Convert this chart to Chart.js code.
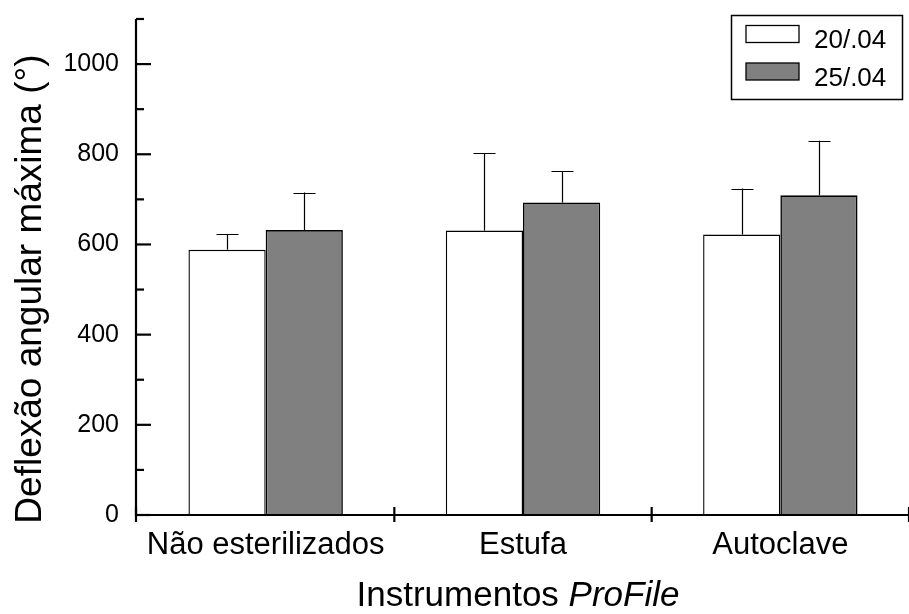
<!DOCTYPE html>
<html>
<head>
<meta charset="utf-8">
<script src="https://cdn.jsdelivr.net/npm/chart.js@4/dist/chart.umd.min.js"></script>
<style>
  html, body { margin: 0; padding: 0; background: #ffffff; }
  #wrap { width: 909px; height: 614px; }
</style>
</head>
<body>
<div id="wrap"><canvas id="chart" width="909" height="614"></canvas></div>
<script>
// Instrument groups on the x axis
const categories = ['Não esterilizados', 'Estufa', 'Autoclave'];

// Series 20/.04: mean maximum angular deflection and its standard deviation
const label2004 = '20/.04';
const mean2004 = [588, 631, 622];
const sd2004 = [35, 171, 102];

// Series 25/.04
const label2504 = '25/.04';
const mean2504 = [632, 693, 709];
const sd2504 = [83, 70, 121];

// Y axis
const yMin = 0;
const yMax = 1100;
const yMajorStep = 200;
const yMinorStep = 100;

const yTitle = 'Deflexão angular máxima (°)';
const xTitleMain = 'Instrumentos ';
const xTitleItalic = 'ProFile';

const FONT = '"Liberation Sans", Arial, Helvetica, sans-serif';

// Error bars (mean + SD, upward only)
const errorBars = {
  id: 'errorBars',
  afterDatasetsDraw(chart) {
    const ctx = chart.ctx;
    const y = chart.scales.y;
    ctx.save();
    ctx.strokeStyle = '#000';
    ctx.lineWidth = 1.2;
    chart.data.datasets.forEach((ds, di) => {
      const meta = chart.getDatasetMeta(di);
      meta.data.forEach((bar, i) => {
        const top = y.getPixelForValue(ds.data[i]);
        const end = y.getPixelForValue(ds.data[i] + ds.errors[i]);
        const x = Math.round(bar.x) + 0.5;
        ctx.beginPath();
        ctx.moveTo(x, top);
        ctx.lineTo(x, end);
        ctx.moveTo(x - 11, Math.round(end) + 0.5);
        ctx.lineTo(x + 11, Math.round(end) + 0.5);
        ctx.stroke();
      });
    });
    ctx.restore();
  }
};

// Axis lines, tick marks, titles and the boxed legend
const frame = {
  id: 'frame',
  afterDraw(chart) {
    const ctx = chart.ctx;
    const area = chart.chartArea;
    const x = chart.scales.x;
    const y = chart.scales.y;
    const axisX = area.left - 1;
    const base = y.getPixelForValue(0);
    ctx.save();
    ctx.strokeStyle = '#000';
    ctx.fillStyle = '#000';

    // axis lines
    ctx.lineWidth = 2.2;
    ctx.beginPath();
    ctx.moveTo(axisX, y.getPixelForValue(yMax));
    ctx.lineTo(axisX, base + 1);
    ctx.moveTo(axisX - 1, base);
    ctx.lineTo(area.right + 2, base);
    ctx.stroke();

    // y ticks, pointing inward
    for (let v = yMin; v <= yMax; v += yMinorStep) {
      const py = y.getPixelForValue(v);
      const len = (v % yMajorStep === 0) ? 15 : 8;
      ctx.beginPath();
      ctx.moveTo(axisX, py);
      ctx.lineTo(axisX + len, py);
      ctx.stroke();
    }

    // x ticks at the category boundaries, crossing the axis
    const half = (x.getPixelForValue(1) - x.getPixelForValue(0)) / 2;
    for (let i = 0; i <= categories.length; i++) {
      const px = i === 0 ? axisX : x.getPixelForValue(i) - half;
      ctx.beginPath();
      ctx.moveTo(px, base - 8);
      ctx.lineTo(px, base + 7);
      ctx.stroke();
    }

    // y title
    ctx.save();
    ctx.translate(41, 289);
    ctx.rotate(-Math.PI / 2);
    ctx.font = '37px ' + FONT;
    ctx.textAlign = 'center';
    ctx.textBaseline = 'alphabetic';
    ctx.fillText(yTitle, 0, 0);
    ctx.restore();

    // x title, product name in italics
    ctx.textBaseline = 'alphabetic';
    ctx.textAlign = 'left';
    const fMain = '35px ' + FONT;
    const fItal = 'italic 35px ' + FONT;
    ctx.font = fMain;
    const w1 = ctx.measureText(xTitleMain).width;
    ctx.font = fItal;
    const w2 = ctx.measureText(xTitleItalic).width;
    const startX = 518 - (w1 + w2) / 2;
    ctx.font = fMain;
    ctx.fillText(xTitleMain, startX, 606);
    ctx.font = fItal;
    ctx.fillText(xTitleItalic, startX + w1, 606);

    // legend box
    ctx.lineWidth = 1.5;
    ctx.strokeRect(731.5, 15.5, 171, 84);
    ctx.font = '26px ' + FONT;
    chart.data.datasets.forEach((ds, i) => {
      const top = 25.5 + i * 37.5;
      ctx.fillStyle = ds.backgroundColor;
      ctx.fillRect(746, top, 53, 17);
      ctx.strokeStyle = '#000';
      ctx.lineWidth = 1.3;
      ctx.strokeRect(746, top, 53, 17);
      ctx.fillStyle = '#000';
      ctx.fillText(ds.label, 814, 48 + i * 37.5);
    });
    ctx.restore();
  }
};

new Chart(document.getElementById('chart'), {
  type: 'bar',
  data: {
    labels: categories,
    datasets: [
      {
        label: label2004,
        data: mean2004,
        errors: sd2004,
        backgroundColor: '#ffffff',
        borderColor: '#000000',
        borderWidth: 1.4,
        borderSkipped: 'start'
      },
      {
        label: label2504,
        data: mean2504,
        errors: sd2504,
        backgroundColor: '#808080',
        borderColor: '#000000',
        borderWidth: 1.6,
        borderSkipped: 'start'
      }
    ]
  },
  options: {
    responsive: false,
    animation: false,
    events: [],
    layout: { padding: { top: 19, right: 0, bottom: 0, left: 0 } },
    datasets: {
      bar: { categoryPercentage: 0.6, barPercentage: 1.0 }
    },
    plugins: {
      legend: { display: false },
      tooltip: { enabled: false },
      title: { display: false }
    },
    scales: {
      x: {
        type: 'category',
        offset: true,
        grid: { display: false, drawTicks: false },
        border: { display: false },
        ticks: {
          color: '#000',
          padding: 12,
          maxRotation: 0,
          autoSkip: false,
          font: { family: FONT, size: 31 }
        },
        afterFit(scale) {
          scale.height = 99;
          scale.paddingLeft = 0;
          scale.paddingRight = 0;
        }
      },
      y: {
        min: yMin,
        max: yMax,
        grid: { display: false, drawTicks: false },
        border: { display: false },
        ticks: {
          stepSize: yMajorStep,
          includeBounds: false,
          color: '#000',
          padding: 18,
          font: { family: FONT, size: 25 },
          callback: (v) => String(v)
        },
        afterFit(scale) {
          scale.width = 137;
          scale.paddingTop = 0;
          scale.paddingBottom = 0;
        }
      }
    }
  },
  plugins: [errorBars, frame]
});
</script>
</body>
</html>
